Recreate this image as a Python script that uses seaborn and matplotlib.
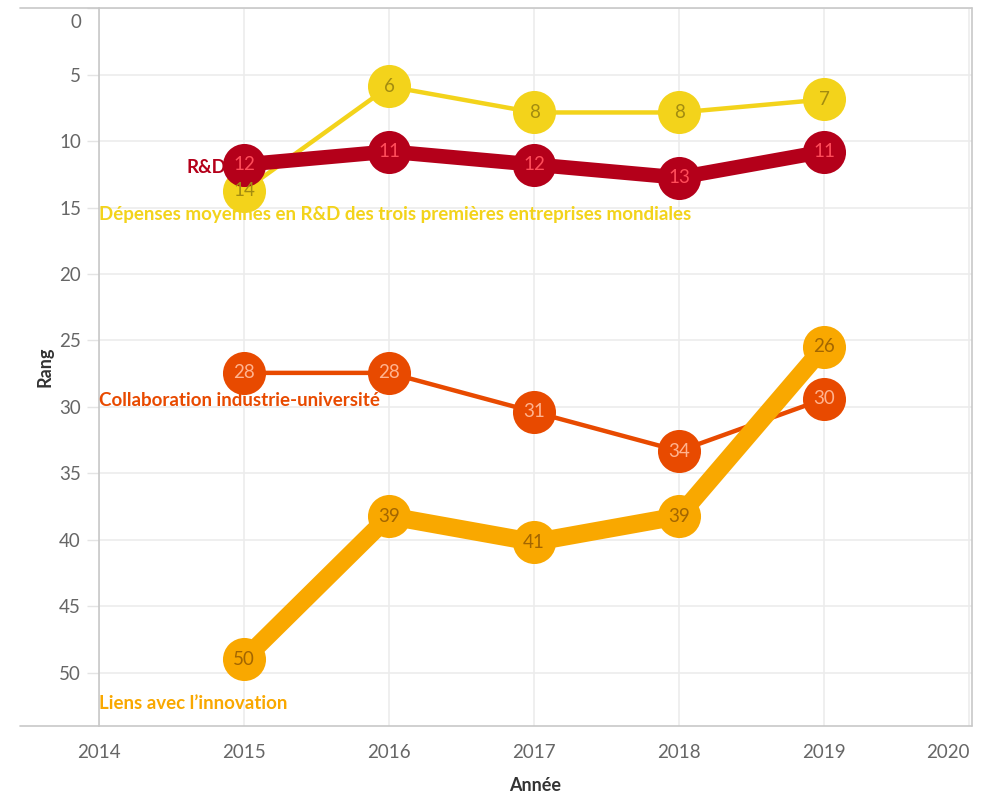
import matplotlib
matplotlib.use("Agg")
import matplotlib.pyplot as plt
from matplotlib.lines import Line2D
from matplotlib.transforms import ScaledTranslation
import seaborn as sns
import pandas as pd

# Data
years = [2015, 2016, 2017, 2018, 2019]
depenses = [14, 6, 8, 8, 7]
rd = [12, 11, 12, 13, 11]
collaboration = [28, 28, 31, 34, 30]
liens = [50, 39, 41, 39, 26]
series_names = [
    "Dépenses moyennes en R&D des trois premières entreprises mondiales",
    "R&D",
    "Collaboration industrie-université",
    "Liens avec l’innovation",
]
x_ticks = [2014, 2015, 2016, 2017, 2018, 2019, 2020]
y_ticks = [0, 5, 10, 15, 20, 25, 30, 35, 40, 45, 50]

sns.set_theme(style="white")
plt.rcParams['font.family'] = ['Lato', 'DejaVu Sans']

fig = plt.figure(figsize=(9.93, 7.99), dpi=100)
ax = fig.add_axes([0.0997, 0.0917, 0.8792, 0.8979])

# visible axis
ax.set_xlim(2014, 2020.02)
ax.set_ylim(54, 0)
ax.set_xticks(x_ticks)
ax.set_yticks(y_ticks)
ax.grid(True, color="#ececec", linewidth=1.2)
ax.set_axisbelow(True)
for s in ["top", "right", "bottom"]:
    ax.spines[s].set_visible(False)
ax.spines["left"].set_color("#c8c8c8")
ax.spines["left"].set_linewidth(1.2)
ax.tick_params(axis="both", colors="#666666", labelsize=13.5, length=6, width=1, direction="out")
ax.tick_params(axis="y", pad=4, color="#e4e4e4", length=9)
ax.tick_params(axis="x", pad=8, color="#c8c8c8", length=5)
ylabels = ax.get_yticklabels()
ylabels[0].set_va("top")
ylabels[0].set_transform(ylabels[0].get_transform() + ScaledTranslation(0, -4 / 72, fig.dpi_scale_trans))
xlabels = ax.get_xticklabels()
xlabels[-1].set_ha("right")
ax.set_xlabel("Année", fontsize=13, fontweight="bold", color="#333333", labelpad=12)
ax.set_ylabel("Rang", fontsize=13, fontweight="bold", color="#333333", labelpad=4)

# frame lines extending to the left like the original
for yy in [0, 1]:
    ax.add_line(Line2D([-0.0905, 1], [yy, yy], transform=ax.transAxes, color="#c8c8c8",
                       linewidth=1.2, clip_on=False))
ax.add_line(Line2D([1, 1], [0, 1], transform=ax.transAxes, color="#c8c8c8",
                   linewidth=1.2, clip_on=False))

# marks axis (slightly different range, as in the source dashboard)
ax2 = ax.twinx()
ax2.set_ylim(55.1, 0)
ax2.set_yticks([])
for s in ax2.spines.values():
    s.set_visible(False)

styles = [
    (depenses, "#F3D31B", 3.2, "#A38C10"),
    (rd, "#B4001A", 10.5, "#FF4D5A"),
    (collaboration, "#E84A00", 3.2, "#FFB38F"),
    (liens, "#F9A800", 13, "#A36600"),
]
for vals, col, lw, tcol in styles:
    df = pd.DataFrame({"year": years, "rang": vals})
    sns.lineplot(data=df, x="year", y="rang", ax=ax2, color=col, linewidth=lw,
                 marker="o", markersize=31, markeredgewidth=0, legend=False)
    for xv, yv in zip(years, vals):
        ax2.text(xv, yv, str(yv), ha="center", va="center", fontsize=13.5,
                 color=tcol, family=["Lato", "DejaVu Sans"])
ax2.set_xlim(2014, 2020.02)
ax2.set_xlabel("")
ax2.set_ylabel("")

# series labels
ax.text(2014.0, 15.5, series_names[0], color="#F3D31B", fontsize=13.5,
        fontweight="bold", ha="left", va="center")
ax.text(2014.88, 12.0, series_names[1], color="#B4001A", fontsize=13.5,
        fontweight="bold", ha="right", va="center")
ax.text(2014.0, 29.5, series_names[2], color="#E84A00", fontsize=13.5,
        fontweight="bold", ha="left", va="center")
ax.text(2014.0, 52.3, series_names[3], color="#F9A800", fontsize=13.5,
        fontweight="bold", ha="left", va="center")

fig.savefig("out.png", dpi=100)
